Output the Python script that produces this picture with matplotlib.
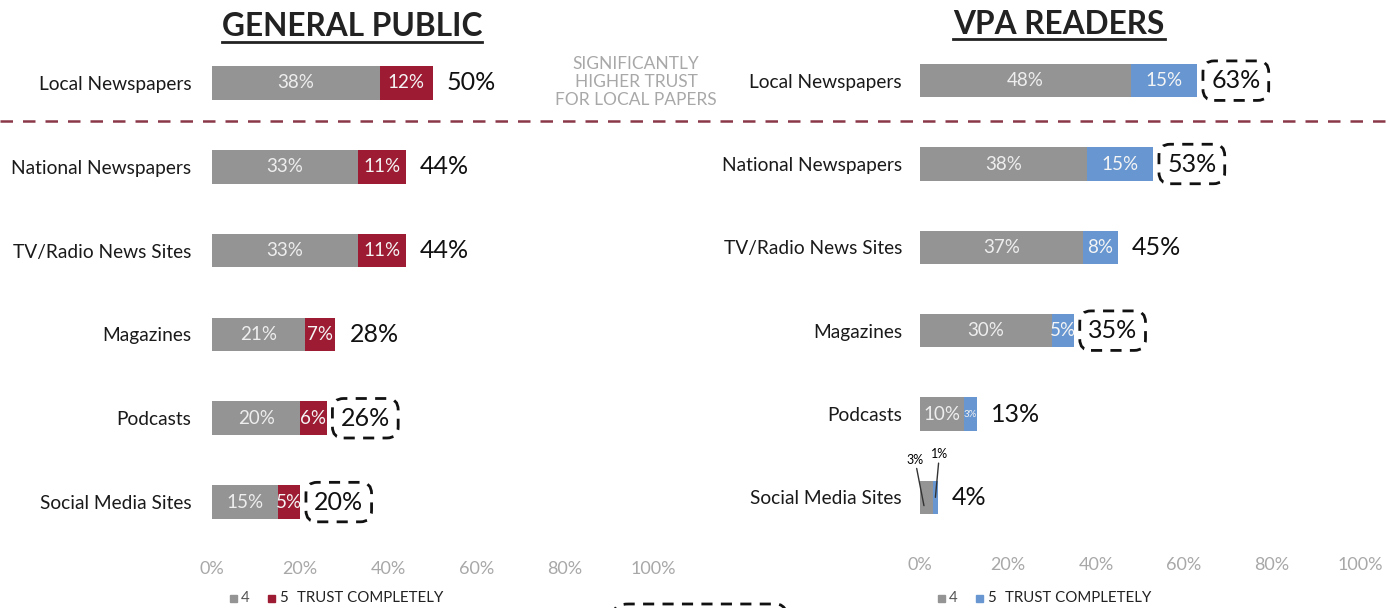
import matplotlib.pyplot as plt
from matplotlib.patches import Rectangle, FancyBboxPatch
from matplotlib.lines import Line2D

plt.rcParams['font.family'] = ['Lato', 'DejaVu Sans']

categories = ['Local Newspapers', 'National Newspapers', 'TV/Radio News Sites',
              'Magazines', 'Podcasts', 'Social Media Sites']

# general public: share answering 4 and 5 (trust completely)
gp_4 = [38, 33, 33, 21, 20, 15]
gp_5 = [12, 11, 11, 7, 6, 5]
gp_total = [50, 44, 44, 28, 26, 20]
gp_boxed = ['Podcasts', 'Social Media Sites']

# VPA readers
vpa_4 = [48, 38, 37, 30, 10, 3]
vpa_5 = [15, 15, 8, 5, 3, 1]
vpa_total = [63, 53, 45, 35, 13, 4]
vpa_boxed = ['Local Newspapers', 'National Newspapers', 'Magazines']

x_ticks = [0, 20, 40, 60, 80, 100]
x_tick_labels = ['0%', '20%', '40%', '60%', '80%', '100%']

GRAY = '#949494'
RED = '#9d1c33'
BLUE = '#6796d0'
W, H = 1390, 608

fig = plt.figure(figsize=(13.9, 6.08), dpi=100)


def px_axes(x0, x1, y0, y1):
    return fig.add_axes([x0 / W, 1 - y1 / H, (x1 - x0) / W, (y1 - y0) / H])


def draw_panel(ax, v4, v5, totals, boxed, color, ypad, xpad):
    ys = list(range(len(categories)))
    ax.barh(ys, v4, height=0.4, color=GRAY)
    ax.barh(ys, v5, left=v4, height=0.4, color=color)
    ax.set_xlim(0, 100)
    ax.set_ylim(len(categories) - 0.5, -0.5)
    ax.set_yticks(ys, categories, fontsize=13.8, color='#1a1a1a')
    ax.set_xticks(x_ticks, x_tick_labels, fontsize=13, color='#a8a8a8')
    ax.tick_params(length=0)
    ax.tick_params(axis='y', pad=ypad)
    ax.tick_params(axis='x', pad=xpad)
    for s in ax.spines.values():
        s.set_visible(False)
    for y, a, b, t, cat in zip(ys, v4, v5, totals, categories):
        if a >= 5:
            ax.text(a / 2, y, f'{a}%', ha='center', va='center', fontsize=13.5,
                    color='#eeeeee')
        if b >= 5:
            ax.text(a + b / 2, y, f'{b}%', ha='center', va='center',
                    fontsize=13.5, color='#f5f5f5')
        kw = {}
        if cat in boxed:
            kw['bbox'] = dict(boxstyle='round,pad=0.33,rounding_size=0.45',
                              fc='none', ec='#111111', lw=2, ls=(0, (4, 3)))
        ax.annotate(f'{t}%', (t, y), xytext=(14, 0), textcoords='offset pixels',
                    ha='left', va='center', fontsize=18, color='#111111', **kw)


ax1 = px_axes(212, 653, 41, 544)
draw_panel(ax1, gp_4, gp_5, gp_total, gp_boxed, RED, 15, 12)

ax2 = px_axes(920, 1360, 39, 539)
draw_panel(ax2, vpa_4, vpa_5, vpa_total, vpa_boxed, BLUE, 13, 13)

# small segments on the reader side
ax2.text(vpa_4[4] + vpa_5[4] / 2, 4, f'{vpa_5[4]}%', ha='center', va='center',
         fontsize=7, color='#f2f2f2')
ax2.annotate(f'{vpa_4[5]}%', (vpa_4[5] / 2 - 0.6, 5.1), xytext=(-9, 40),
             textcoords='offset pixels', ha='center', va='bottom', fontsize=9,
             arrowprops=dict(arrowstyle='-', color='#333333', lw=1,
                             shrinkA=0, shrinkB=0))
ax2.annotate(f'{vpa_5[5]}%', (vpa_4[5] + vpa_5[5] / 2, 5.0), xytext=(4, 37),
             textcoords='offset pixels', ha='center', va='bottom', fontsize=9,
             arrowprops=dict(arrowstyle='-', color='#333333', lw=1,
                             shrinkA=0, shrinkB=0))

# titles
t1 = fig.text(352 / W, 1 - 27 / H, 'GENERAL PUBLIC', ha='center', va='center',
              fontsize=22.8, fontweight='bold', color='#222222')
t2 = fig.text(1059 / W, 1 - 24 / H, 'VPA READERS', ha='center', va='center',
              fontsize=22.8, fontweight='bold', color='#222222')
fig.canvas.draw()
for t, uy in [(t1, 42), (t2, 39)]:
    bb = t.get_window_extent()
    fig.add_artist(Line2D([bb.x0 / W, bb.x1 / W], [1 - uy / H, 1 - uy / H],
                          transform=fig.transFigure, color='#222222', lw=2))

fig.text(636 / W, 1 - 82 / H, 'SIGNIFICANTLY\nHIGHER TRUST\nFOR LOCAL PAPERS',
         ha='center', va='center', fontsize=12.5, color='#a8a8a8',
         linespacing=1.15)

# separator under local newspapers
fig.add_artist(Line2D([0, 1], [1 - 121 / H, 1 - 121 / H],
                      transform=fig.transFigure, color='#8a3848', lw=1.8,
                      ls=(0, (5, 4))))

# legends
for lx, c in [(233, RED), (941, BLUE)]:
    fig.add_artist(Rectangle(((lx - 3) / W, 1 - 602 / H), 7 / W, 7 / H,
                             transform=fig.transFigure, color=GRAY))
    fig.text((lx + 8) / W, 1 - 598 / H, '4', ha='left', va='center',
             fontsize=10.8, color='#555555')
    fig.add_artist(Rectangle(((lx + 35) / W, 1 - 602 / H), 7 / W, 7 / H,
                             transform=fig.transFigure, color=c))
    fig.text((lx + 46) / W, 1 - 598 / H, '5', ha='left', va='center',
             fontsize=10.8, color='#222222')
    fig.text((lx + 64) / W, 1 - 598 / H, 'TRUST COMPLETELY', ha='left',
             va='center', fontsize=10.8, color='#222222')

# edge of a callout box below the chart
fig.add_artist(FancyBboxPatch((615 / W, 1 - 640 / H), 175 / W, 36 / H,
                              boxstyle='round,pad=0,rounding_size=0.01',
                              transform=fig.transFigure, fc='none',
                              ec='#111111', lw=2, ls=(0, (4, 3))))

fig.savefig('out.png', dpi=100)
